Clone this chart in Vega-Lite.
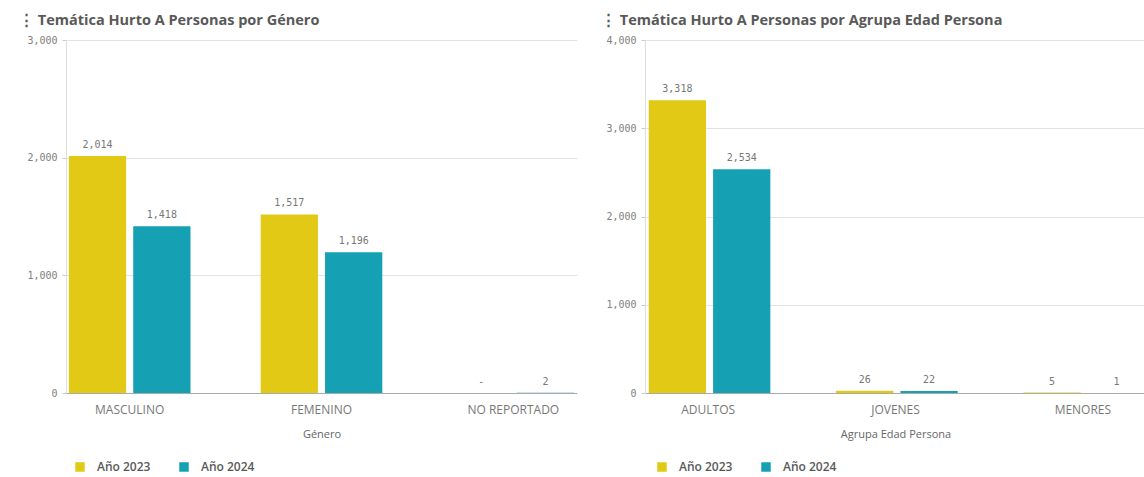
{
  "$schema": "https://vega.github.io/schema/vega-lite/v6.json",
  "background": "white",
  "padding": {"left": 5, "top": 12, "right": 0, "bottom": 34},
  "config": {
    "view": {"stroke": null},
    "axis": {
      "labelFont": "DejaVu Sans Mono",
      "labelFontSize": 10,
      "labelColor": "#808080",
      "titleFont": "Open Sans",
      "titleFontSize": 11,
      "titleFontWeight": "normal",
      "titleColor": "#666666",
      "gridColor": "#e3e3e3",
      "domainColor": "#aaaaaa"
    },
    "title": {
      "font": "Open Sans",
      "fontSize": 14.5,
      "fontWeight": "bold",
      "color": "#595959",
      "anchor": "start",
      "frame": "group"
    },
    "legend": {
      "labelFont": "Open Sans",
      "labelFontSize": 12,
      "labelFontWeight": 600,
      "labelColor": "#595959",
      "symbolType": "square",
      "symbolSize": 90,
      "symbolStrokeWidth": 0,
      "labelOffset": 11,
      "padding": 0,
      "columnPadding": 27
    }
  },
  "datasets": {
    "genero": [
      {"categoria": "MASCULINO", "anio": "Año 2023", "valor": 2014, "etiqueta": "2,014"},
      {"categoria": "MASCULINO", "anio": "Año 2024", "valor": 1418, "etiqueta": "1,418"},
      {"categoria": "FEMENINO", "anio": "Año 2023", "valor": 1517, "etiqueta": "1,517"},
      {"categoria": "FEMENINO", "anio": "Año 2024", "valor": 1196, "etiqueta": "1,196"},
      {"categoria": "NO REPORTADO", "anio": "Año 2023", "valor": 0, "etiqueta": "-"},
      {"categoria": "NO REPORTADO", "anio": "Año 2024", "valor": 2, "etiqueta": "2"}
    ],
    "edad": [
      {"categoria": "ADULTOS", "anio": "Año 2023", "valor": 3318, "etiqueta": "3,318"},
      {"categoria": "ADULTOS", "anio": "Año 2024", "valor": 2534, "etiqueta": "2,534"},
      {"categoria": "JOVENES", "anio": "Año 2023", "valor": 26, "etiqueta": "26"},
      {"categoria": "JOVENES", "anio": "Año 2024", "valor": 22, "etiqueta": "22"},
      {"categoria": "MENORES", "anio": "Año 2023", "valor": 5, "etiqueta": "5"},
      {"categoria": "MENORES", "anio": "Año 2024", "valor": 1, "etiqueta": "1"}
    ]
  },
  "spacing": 18,
  "resolve": {"scale": {"color": "independent", "x": "independent", "y": "independent"}, "legend": {"color": "independent"}},
  "hconcat": [
    {
      "title": {"text": "⋮  Temática Hurto A Personas por Género", "dx": -47, "offset": 7},
      "width": 511,
      "height": 353,
      "data": {"name": "genero"},
      "encoding": {
        "x": {
          "field": "categoria", "type": "nominal",
          "sort": ["MASCULINO", "FEMENINO", "NO REPORTADO"],
          "scale": {"paddingInner": 0.366, "paddingOuter": 0.015},
          "axis": {"title": "Género", "labelAngle": 0, "labelFont": "Open Sans", "labelFontSize": 12, "labelColor": "#777777", "ticks": false, "labelPadding": 11, "titlePadding": 13, "domainColor": "#aaaaaa"}
        },
        "xOffset": {"field": "anio", "type": "nominal", "scale": {"paddingInner": 0.11}},
        "y": {
          "field": "valor", "type": "quantitative",
          "scale": {"domain": [0, 3000]},
          "axis": {"title": null, "values": [0, 1000, 2000, 3000], "format": ",d", "tickSize": 4, "tickColor": "#cccccc", "labelPadding": 5, "minExtent": 61, "domainColor": "#dddddd"}
        }
      },
      "layer": [
        {
          "mark": {"type": "bar"},
          "encoding": {
            "color": {
              "field": "anio", "type": "nominal",
              "scale": {"domain": ["Año 2023", "Año 2024"], "range": ["#e2c916", "#16a0b4"]},
              "legend": {"title": null, "orient": "none", "direction": "horizontal", "legendX": 8, "legendY": 421}
            }
          }
        },
        {
          "mark": {"type": "text", "dy": -11, "font": "DejaVu Sans Mono", "fontSize": 10, "color": "#777777"},
          "encoding": {"text": {"field": "etiqueta"}}
        }
      ]
    },
    {
      "title": {"text": "⋮  Temática Hurto A Personas por Agrupa Edad Persona", "dx": -44, "offset": 7},
      "width": 501,
      "height": 353,
      "data": {"name": "edad"},
      "encoding": {
        "x": {
          "field": "categoria", "type": "nominal",
          "sort": ["ADULTOS", "JOVENES", "MENORES"],
          "scale": {"paddingInner": 0.366, "paddingOuter": 0.02},
          "axis": {"title": "Agrupa Edad Persona", "labelAngle": 0, "labelFont": "Open Sans", "labelFontSize": 12, "labelColor": "#777777", "ticks": false, "labelPadding": 11, "titlePadding": 13, "domainColor": "#aaaaaa"}
        },
        "xOffset": {"field": "anio", "type": "nominal", "scale": {"paddingInner": 0.11}},
        "y": {
          "field": "valor", "type": "quantitative",
          "scale": {"domain": [0, 4000]},
          "axis": {"title": null, "values": [0, 1000, 2000, 3000, 4000], "format": ",d", "tickSize": 4, "tickColor": "#cccccc", "labelPadding": 5, "minExtent": 50, "domainColor": "#dddddd"}
        }
      },
      "layer": [
        {
          "mark": {"type": "bar"},
          "encoding": {
            "color": {
              "field": "anio", "type": "nominal",
              "scale": {"domain": ["Año 2023", "Año 2024"], "range": ["#e2c916", "#16a0b4"]},
              "legend": {"title": null, "orient": "none", "direction": "horizontal", "legendX": 11, "legendY": 421}
            }
          }
        },
        {
          "mark": {"type": "text", "dy": -11, "font": "DejaVu Sans Mono", "fontSize": 10, "color": "#777777"},
          "encoding": {"text": {"field": "etiqueta"}}
        }
      ]
    }
  ]
}
